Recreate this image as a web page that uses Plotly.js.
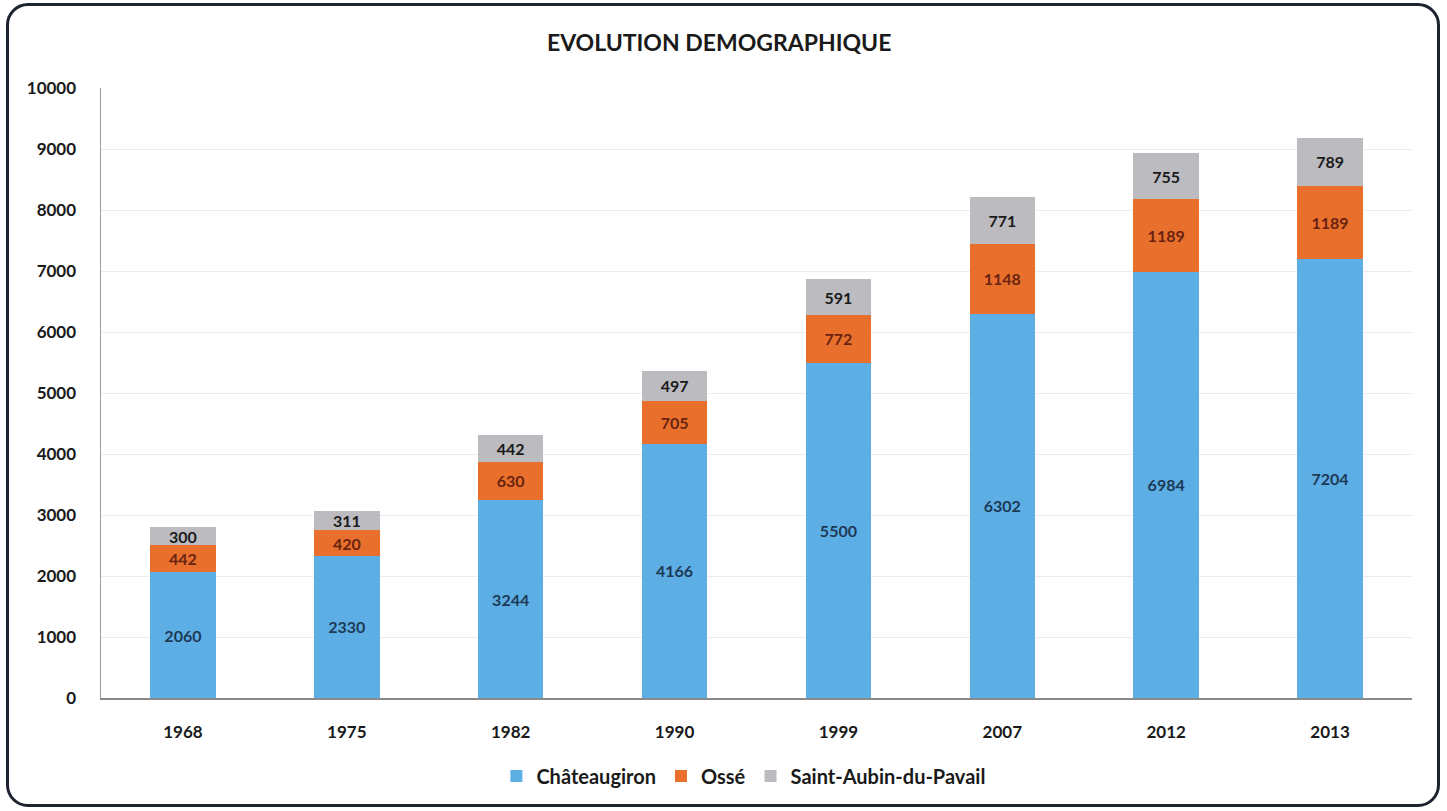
<!DOCTYPE html>
<html>
<head>
<meta charset="utf-8">
<script src="https://cdn.plot.ly/plotly-3.0.1.min.js"></script>
<style>
  html, body { margin: 0; padding: 0; background: #ffffff; }
  #frame { position: absolute; left: 6px; top: 3px; width: 1434px; height: 804px;
           border: 3px solid #1e2330; border-radius: 22px; box-sizing: border-box; pointer-events: none; }
  #chart { position: absolute; left: 0; top: 0; width: 1447px; height: 811px; }
</style>
</head>
<body>
<div id="chart"></div>
<div id="frame"></div>
<script>
const years = ['1968', '1975', '1982', '1990', '1999', '2007', '2012', '2013'];
const chateaugiron = [2060, 2330, 3244, 4166, 5500, 6302, 6984, 7204];
const osse = [442, 420, 630, 705, 772, 1148, 1189, 1189];
const saintAubin = [300, 311, 442, 497, 591, 771, 755, 789];
const seriesNames = ['Châteaugiron', 'Ossé', 'Saint-Aubin-du-Pavail'];

const font = 'Lato, "Open Sans", sans-serif';

function mk(name, vals, color, txtColor) {
  return {
    type: 'bar', name: name, x: years, y: vals,
    marker: { color: color, line: { width: 0 } },
    width: 0.4,
    text: vals.map(v => '<b>' + v + '</b>'),
    textposition: 'inside',
    insidetextanchor: 'middle',
    constraintext: 'none',
    textfont: { family: font, size: 16, color: txtColor, weight: 'bold' },
    hoverinfo: 'x+y+name'
  };
}

const data = [
  mk(seriesNames[0], chateaugiron, '#5eaee6', '#1d3a55'),
  mk(seriesNames[1], osse, '#e8702c', '#6a2310'),
  mk(seriesNames[2], saintAubin, '#bcbcc0', '#1a1a1a')
];

const layout = {
  width: 1447, height: 811, autosize: false,
  paper_bgcolor: '#ffffff', plot_bgcolor: '#ffffff',
  barmode: 'stack',
  margin: { l: 101, r: 35, t: 88, b: 113 },
  title: { text: '<b>EVOLUTION DEMOGRAPHIQUE</b>', x: 0.497, xanchor: 'center', y: 0.947, yanchor: 'middle',
           font: { family: font, size: 23, color: '#1a1a1a' } },
  xaxis: {
    type: 'category', showgrid: false, zeroline: false,
    showline: true, linecolor: '#8a8a8a', linewidth: 1.5,
    ticks: '', ticklabelstandoff: 18,
    tickfont: { family: font, size: 17, color: '#1a1a1a', weight: 'bold' }
  },
  yaxis: {
    range: [0, 10000], dtick: 1000, tick0: 0, tickformat: 'd',
    showgrid: true, gridcolor: '#ececec', gridwidth: 1,
    zeroline: false, showline: true, linecolor: '#9a9a9a', linewidth: 1.5,
    ticks: '', ticklabelstandoff: 20,
    tickfont: { family: font, size: 17, color: '#1a1a1a', weight: 'bold' }
  },
  legend: {
    orientation: 'h', x: 0.49, xanchor: 'center', y: -0.128, yanchor: 'middle',
    font: { family: font, size: 20, color: '#1a1a1a', weight: 'bold' },
    traceorder: 'normal', itemwidth: 30
  },
  showlegend: true
};

Plotly.newPlot('chart', data, layout, { displayModeBar: false, staticPlot: true });
</script>
</body>
</html>
